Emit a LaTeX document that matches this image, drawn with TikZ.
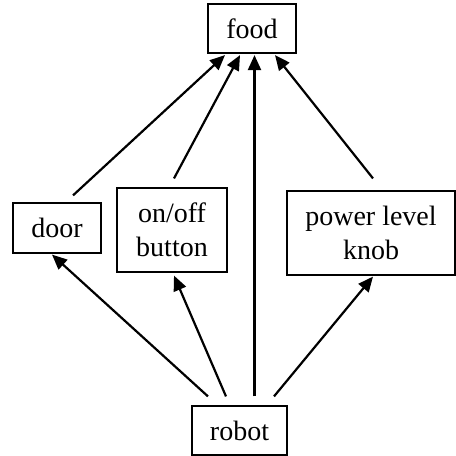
\documentclass[tikz,border=0pt]{standalone}
\usepackage{fontspec}
\setmainfont{Liberation Serif}
\usetikzlibrary{arrows.meta}

\tikzset{
  box/.style={draw, line width=0.6pt, inner sep=0pt, align=center,
    font=\fontsize{14}{17}\selectfont},
  arr/.style={-{Triangle[length=7.5pt,width=6.5pt]}, line width=1.1pt}
}

\begin{document}
\begin{tikzpicture}[x=0.5pt,y=-0.5pt]
            \useasboundingbox (0,0) rectangle (456,456);
            \node [box, minimum width=44pt, minimum height=24.5pt] (food) at (252,28.5) {food};
            \node [box, minimum width=44pt, minimum height=25pt] (door) at (57,228) {door};
            \node [box, minimum width=55pt, minimum height=42pt] (onoff) at (172,230) {on/off\\button};
            \node [box, minimum width=84pt, minimum height=42pt] (knob) at (371,233) {power level\\knob};
            \node [box, minimum width=47.5pt, minimum height=24.5pt] (robot) at (239.5,430.5) {robot};
            % upper row
            \draw [arr] ([shift={(8pt,3.5pt)}]door.north) -- ([shift={(-13.5pt,-0.75pt)}]food.south);
            \draw [arr] ([shift={(1pt,4.5pt)}]onoff.north) -- ([shift={(-6pt,-0.75pt)}]food.south);
            \draw [arr] ([shift={(7.5pt,4.5pt)}]robot.north) -- ([shift={(1.25pt,-0.75pt)}]food.south);
            \draw [arr] ([shift={(1pt,6pt)}]knob.north) -- ([shift={(11.5pt,-0.75pt)}]food.south);
            % lower row
            \draw [arr] ([shift={(-15.75pt,4.5pt)}]robot.north) -- ([shift={(-2.5pt,-0.5pt)}]door.south);
            \draw [arr] ([shift={(-6.75pt,4.5pt)}]robot.north) -- ([shift={(1pt,-1.5pt)}]onoff.south);
            \draw [arr] ([shift={(17.25pt,4.5pt)}]robot.north) -- ([shift={(1pt,-0.5pt)}]knob.south);
        \end{tikzpicture}
\end{document}
